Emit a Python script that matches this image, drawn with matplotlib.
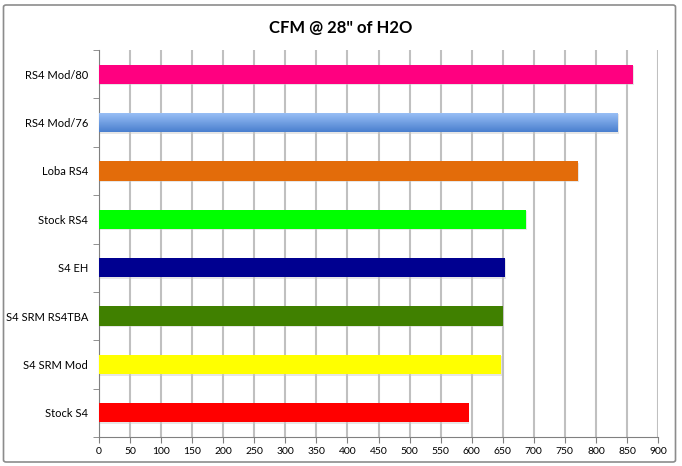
import numpy as np
import matplotlib.pyplot as plt
from matplotlib.patches import FancyBboxPatch
from matplotlib.colors import LinearSegmentedColormap

# data, bottom to top
labels = ['Stock S4', 'S4 SRM Mod', 'S4 SRM RS4TBA', 'S4 EH',
          'Stock RS4', 'Loba RS4', 'RS4 Mod/76', 'RS4 Mod/80']
cfm = [595, 647, 651, 653, 688, 772, 835, 860]
colors = ['#ff0000', '#ffff00', '#408000', '#000090',
          '#00ff00', '#e36c0a', '#6fa0e6', '#ff0080']

plt.rcParams['font.family'] = ['Lato', 'DejaVu Sans']

fig = plt.figure(figsize=(6.82, 4.66), dpi=100)
ax = fig.add_axes([99/682, 1 - 437/466, (658 - 99)/682, (437 - 50)/466])

# outer frame
fig.patches.append(FancyBboxPatch((3.5/682, 4/466), 672/682, 457/466,
                                  boxstyle='round,pad=0,rounding_size=0.004',
                                  transform=fig.transFigure, fill=False,
                                  edgecolor='#8c8c8c', linewidth=1.2))

y = np.arange(len(labels))
h = 0.4

# soft shadows under the bars
ax.barh(y - 0.03, np.array(cfm) + 1.5, height=h, left=0, color='#c8c8c8',
        alpha=0.45, zorder=2)
bars = ax.barh(y, cfm, height=h, color=colors, zorder=3)

# gradient on the blue one
b = bars[6]
grad = np.linspace(0, 1, 100).reshape(-1, 1)
cmap = LinearSegmentedColormap.from_list('bl', ['#4a7fcf', '#9cc2f7'])
im = ax.imshow(grad, extent=[0, cfm[6], 6 - h/2, 6 + h/2], origin='lower',
               cmap=cmap, aspect='auto', zorder=4)
im.set_clip_path(b)

ax.set_xlim(0, 900)
ax.set_ylim(-0.5, len(labels) - 0.5)
ax.set_xticks(np.arange(0, 901, 50))
ax.set_yticks(y)
ax.set_yticklabels(labels, fontsize=8)
ax.set_yticks(np.arange(-0.5, len(labels), 1), minor=True)
ax.tick_params(axis='y', which='major', length=0, pad=8)
ax.tick_params(axis='y', which='minor', length=4, color='#808080', direction='out')
ax.tick_params(axis='x', labelsize=7.5, length=4, color='#808080', pad=3)

ax.xaxis.grid(True, color='#c0c0c0', linewidth=1.5, zorder=0)
ax.set_axisbelow(True)
for s in ['top', 'right']:
    ax.spines[s].set_visible(False)
ax.spines['left'].set_color('#808080')
ax.spines['bottom'].set_color('#808080')

fig.text(0.5, 1 - 28/466, 'CFM @ 28" of H2O', ha='center', va='center',
         fontsize=12, fontweight='bold')

fig.savefig('out.png', dpi=100)
